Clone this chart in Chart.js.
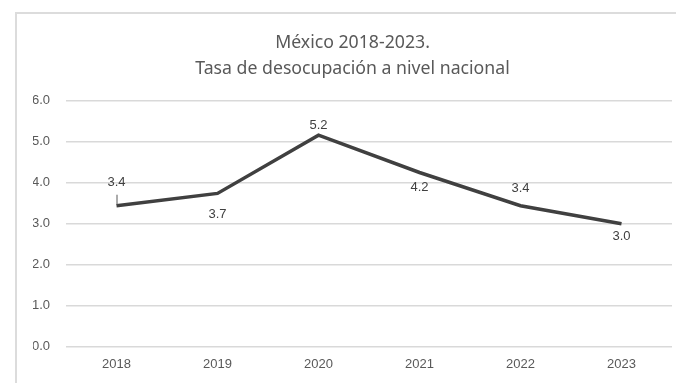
<!DOCTYPE html>
<html>
<head>
<meta charset="utf-8">
<script src="https://cdn.jsdelivr.net/npm/chart.js@4"></script>
<style>
  html, body { margin: 0; padding: 0; background: #fff; overflow: hidden; }
  #wrap { position: relative; width: 716px; height: 383px; }
  #frame {
    position: absolute; left: 15px; top: 12px; width: 720px; height: 400px;
    border-left: 2px solid #dcdcdc; border-top: 2px solid #dcdcdc;
  }
  canvas { position: absolute; left: 0; top: 0; }
</style>
</head>
<body>
<div id="wrap">
  <div id="frame"></div>
  <canvas id="chart" width="716" height="383"></canvas>
</div>
<script>
// ===== DATA =====
const years = ["2018", "2019", "2020", "2021", "2022", "2023"];
const rate = [3.43, 3.73, 5.15, 4.24, 3.43, 2.99];
const yTicks = [0, 1, 2, 3, 4, 5, 6];
const titleLines = ["México 2018-2023.", "Tasa de desocupación a nivel nacional"];

// label placement (pixels from the point, negative = above)
const labelShift = [-23, 21, -10, 15, -17, 13];

const valueLabels = {
  id: "valueLabels",
  afterDatasetsDraw(chart) {
    const ctx = chart.ctx;
    const meta = chart.getDatasetMeta(0);
    ctx.save();
    ctx.font = "13px 'Liberation Sans', Arial, sans-serif";
    ctx.fillStyle = "#404040";
    ctx.textAlign = "center";
    ctx.textBaseline = "middle";
    meta.data.forEach((pt, i) => {
      ctx.fillText(rate[i].toFixed(1), pt.x, pt.y + labelShift[i]);
    });
    // leader line for first label
    const p0 = meta.data[0];
    ctx.strokeStyle = "#595959";
    ctx.lineWidth = 1;
    ctx.beginPath();
    ctx.moveTo(p0.x + 0.5, p0.y - 11);
    ctx.lineTo(p0.x + 0.5, p0.y - 1);
    ctx.stroke();
    ctx.restore();
  }
};

const ctx = document.getElementById("chart").getContext("2d");
new Chart(ctx, {
  type: "line",
  data: {
    labels: years,
    datasets: [
      {
        label: "Tasa",
        data: rate,
        borderColor: "#404040",
        borderWidth: 3.5,
        pointRadius: 0,
        tension: 0,
        fill: false
      }
    ]
  },
  options: {
    responsive: false,
    animation: false,
    layout: { padding: { left: 33, right: 44, top: 30, bottom: 1 } },
    plugins: {
      legend: { display: false },
      tooltip: { enabled: false },
      title: {
        display: true,
        text: titleLines,
        color: "#595959",
        font: { family: "'Noto Sans', sans-serif", size: 17.7, weight: "normal", lineHeight: 1.45 },
        padding: { top: 0, bottom: 19 }
      }
    },
    scales: {
      x: {
        offset: true,
        grid: { display: false, drawTicks: false },
        border: { display: false },
        ticks: {
          color: "#595959",
          padding: 10,
          maxRotation: 0,
          font: { family: "'Liberation Sans', Arial, sans-serif", size: 13 }
        }
      },
      y: {
        min: 0,
        max: 6,
        afterBuildTicks: (axis) => {
          axis.ticks = yTicks.map((v) => ({ value: v }));
        },
        afterFit: (axis) => {
          axis.width = 33;
        },
        grid: { color: "#d9d9d9", lineWidth: 1.5, drawTicks: false },
        border: { display: false },
        ticks: {
          color: "#595959",
          padding: 16,
          font: { family: "'Liberation Sans', Arial, sans-serif", size: 13 },
          callback: (v) => Number(v).toFixed(1)
        }
      }
    }
  },
  plugins: [valueLabels]
});
</script>
</body>
</html>
